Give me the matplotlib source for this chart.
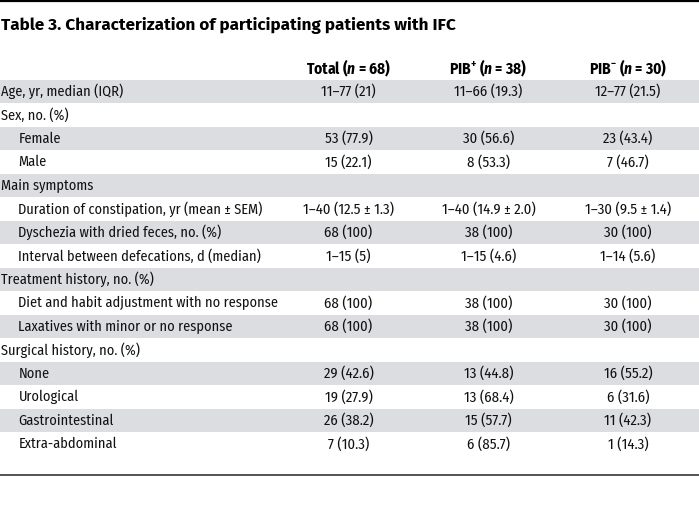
import matplotlib
matplotlib.use('Agg')
import matplotlib.pyplot as plt

FONT = 'Fira Sans Condensed'
plt.rcParams['font.family'] = [FONT, 'Barlow Semi Condensed', 'DejaVu Sans']
plt.rcParams['mathtext.fontset'] = 'custom'
plt.rcParams['mathtext.it'] = FONT + ':italic:bold'
plt.rcParams['mathtext.rm'] = FONT + ':bold'
plt.rcParams['mathtext.bf'] = FONT + ':bold'

title = 'Table 3. Characterization of participating patients with IFC'
headers = [r'Total ($n$ = 68)', r'PIB$^{+}$ ($n$ = 38)', r'PIB$^{-}$ ($n$ = 30)']

labels = ['Age, yr, median (IQR)', 'Sex, no. (%)', 'Female', 'Male', 'Main symptoms',
          'Duration of constipation, yr (mean ± SEM)', 'Dyschezia with dried feces, no. (%)',
          'Interval between defecations, d (median)', 'Treatment history, no. (%)',
          'Diet and habit adjustment with no response', 'Laxatives with minor or no response',
          'Surgical history, no. (%)', 'None', 'Urological', 'Gastrointestinal', 'Extra-abdominal']
indent = [0, 0, 1, 1, 0, 1, 1, 1, 0, 1, 1, 0, 1, 1, 1, 1]
total = ['11–77 (21)', '', '53 (77.9)', '15 (22.1)', '', '1–40 (12.5 ± 1.3)', '68 (100)',
         '1–15 (5)', '', '68 (100)', '68 (100)', '', '29 (42.6)', '19 (27.9)', '26 (38.2)', '7 (10.3)']
pib_pos = ['11–66 (19.3)', '', '30 (56.6)', '8 (53.3)', '', '1–40 (14.9 ± 2.0)', '38 (100)',
           '1–15 (4.6)', '', '38 (100)', '38 (100)', '', '13 (44.8)', '13 (68.4)', '15 (57.7)', '6 (85.7)']
pib_neg = ['12–77 (21.5)', '', '23 (43.4)', '7 (46.7)', '', '1–30 (9.5 ± 1.4)', '30 (100)',
           '1–14 (5.6)', '', '30 (100)', '30 (100)', '', '16 (55.2)', '6 (31.6)', '11 (42.3)', '1 (14.3)']

W, H = 699, 528
fig = plt.figure(figsize=(W / 100, H / 100), dpi=100)
ax = fig.add_axes([0, 0, 1, 1])
ax.set_xlim(0, W)
ax.set_ylim(H, 0)
ax.axis('off')

row0, row_h = 91.5, 23.5
col_x = [348.5, 488.5, 628]
fs = 10.3

ax.axhline(0.8, color='black', lw=1.6)
ax.text(1, 26, title, fontsize=12.3, fontweight='bold', va='center', ha='left',
        family=['Fira Sans', 'DejaVu Sans'])
for x, h in zip(col_x, headers):
    ax.text(x, 68, h, fontsize=11.1, fontweight='bold', ha='center', va='center')

for i, lab in enumerate(labels):
    y = row0 + i * row_h
    if i % 2 == 0:
        ax.barh(y, W, left=0, height=row_h - 1.2, color='#dcdde0', lw=0)
    ax.text(1 + 17.5 * indent[i], y, lab, fontsize=fs, ha='left', va='center', color='#111111')
    for x, col in zip(col_x, [total, pib_pos, pib_neg]):
        ax.text(x, y, col[i], fontsize=fs + 0.3, ha='center', va='center', color='#111111')

ax.axhline(475, color='#444444', lw=1.3)

fig.savefig('out.png', dpi=100)
